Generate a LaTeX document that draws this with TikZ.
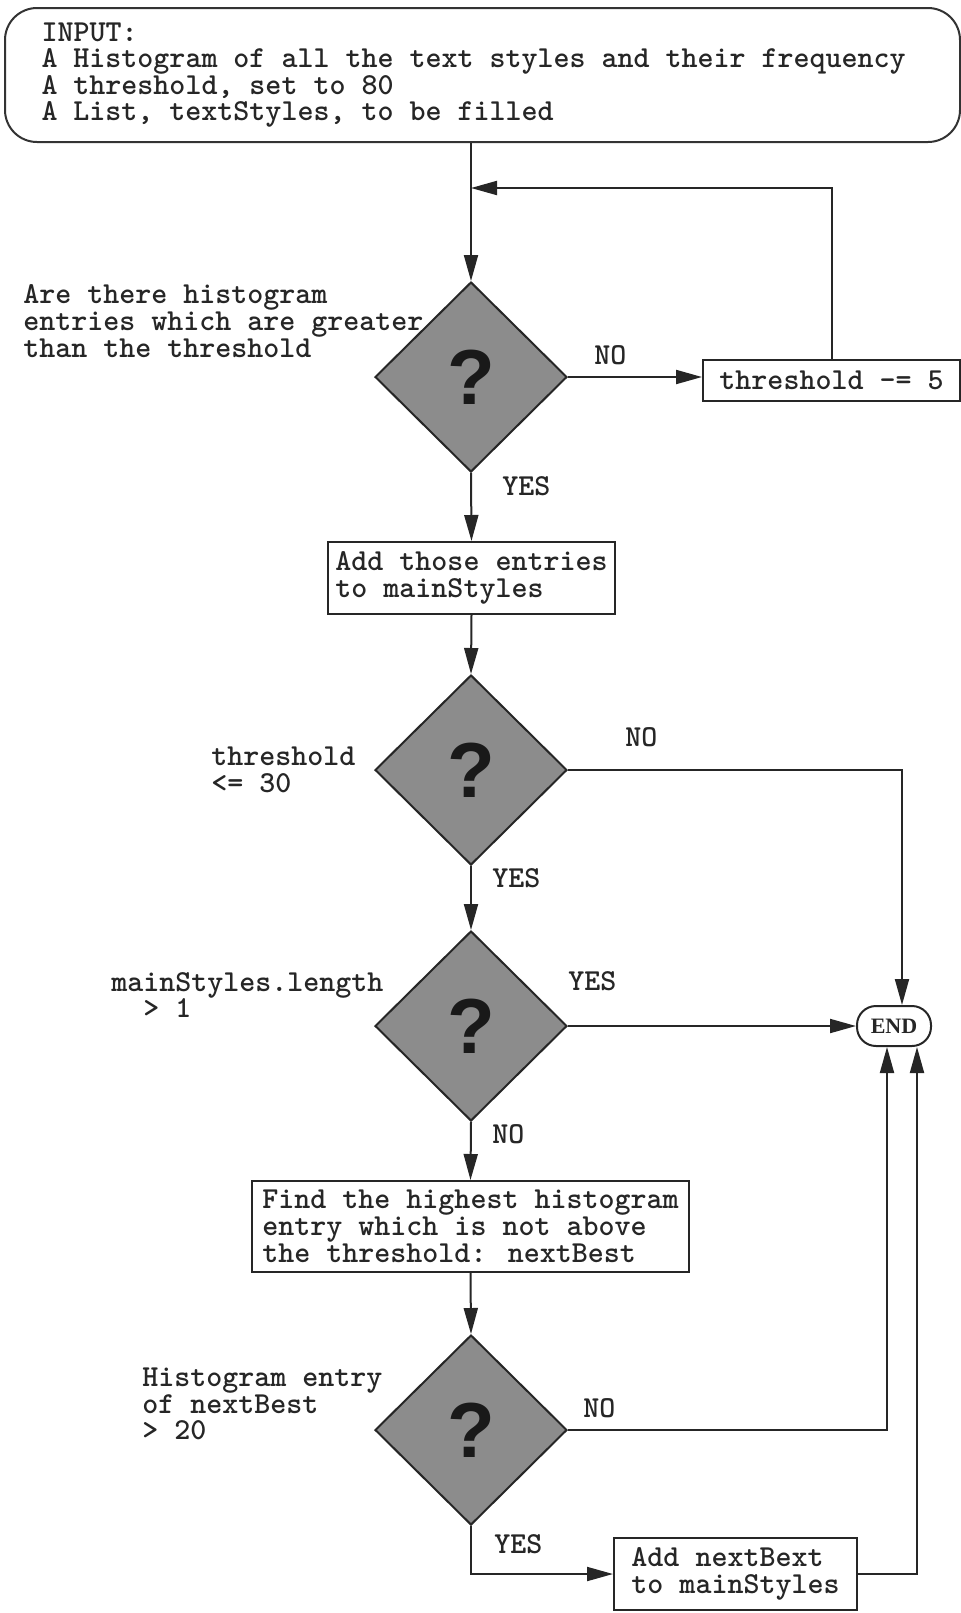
\documentclass[tikz,border=0pt]{standalone}
\usepackage{fontspec}
\newfontfamily\qmarkfont{Liberation Sans}
\newfontfamily\endfont{Liberation Serif}
\usetikzlibrary{arrows.meta,positioning,shapes.geometric}

\begin{document}
\begin{tikzpicture}[
    x=0.5pt, y=-0.5pt,
    every node/.style={font=\ttfamily\bfseries\fontsize{15.24pt}{13.4pt}\selectfont, text=black!85},
    inputbox/.style={
      draw=black!80, line width=1pt,
      rounded corners=16pt, align=left,
      minimum width=477.5pt, minimum height=67pt,
      text width=441pt, inner sep=0pt,
      font=\ttfamily\bfseries\fontsize{15.24pt}{13.2pt}\selectfont
    },
    decision/.style={
      diamond, draw=black!85, line width=1pt,
      fill=black!45, text=black!90,
      minimum width=96pt, minimum height=95pt, inner sep=0pt,
      font=\qmarkfont\bfseries\fontsize{39pt}{39pt}\selectfont
    },
    process/.style={
      draw=black!85, line width=1pt,
      align=left, inner sep=0pt
    },
    terminal/.style={
      draw=black!85, line width=1pt,
      rounded corners=9.5pt, inner sep=0pt,
      minimum width=37pt, minimum height=20pt,
      font=\endfont\bfseries\fontsize{11pt}{11pt}\selectfont
    },
    question/.style={anchor=west, align=left, inner sep=0pt},
    answer/.style={anchor=west, inner sep=0pt},
    arrow/.style={-{Triangle[length=13pt,width=7pt]}, line width=1pt, black!85}
  ]

    \useasboundingbox (0,0) rectangle (961,1613);

    \node[inputbox] (input) at (482.5,75)
      {\spaceskip=0.525em\relax INPUT:\\A Histogram of all the text styles and their frequency\\A threshold, set to 80\\A List, textStyles, to be filled};

    % decisions down the middle
    \node[decision] (d1) at (471,377) {?};
    \node[decision] (d2) at (471,770) {?};
    \node[decision] (d3) at (471,1026) {?};
    \node[decision] (d4) at (471,1430) {?};

    \node[question] (q1) at (23,321) {Are there histogram\\entries which are greater\\than the threshold};
    \node[question] (q2) at (211,770) {threshold\\<= 30};
    \node[question] (q3) at (111,995) {mainStyles.length\\\phantom{ma}> 1};
    \node[question] (q4) at (142,1404) {Histogram entry\\of nextBest\\> 20};

    % actions
    \node[process, minimum width=128.5pt, minimum height=20.5pt] (thr) at (831.5,380.5) {threshold -= 5};
    \node[process, minimum width=143.5pt, minimum height=36pt] (add1) at (471.5,578) {Add those entries\\to mainStyles};
    \node[process, minimum width=218.5pt, minimum height=45.5pt] (find) at (470.5,1226.5)
      {Find the highest histogram\\entry which is not above\\the threshold: nextBest};
    \node[process, minimum width=121.5pt, minimum height=36pt] (add2) at (735.5,1574) {Add nextBext\\to mainStyles};

    \node[terminal] (end) at (894,1026) {END};

    \node[answer] (no1) at (594,355) {NO};
    \node[answer] (yes1) at (502,486) {YES};
    \node[answer] (no2) at (625,737) {NO};
    \node[answer] (yes2) at (492,878) {YES};
    \node[answer] (yes3) at (568,981) {YES};
    \node[answer] (no3) at (492,1134) {NO};
    \node[answer] (no4) at (583,1408) {NO};
    \node[answer] (yes4) at (494,1544) {YES};

    \coordinate (loop) at (471,188);

    \draw[arrow] (input.south -| d1.north) -- (d1.north);
    \draw[arrow] (d1.east) -- (d1.east -| thr.west);
    \draw[arrow] (thr.north) |- (loop);
    \draw[arrow] (d1.south) -- (add1.north);
    \draw[arrow] (add1.south) -- (d2.north);
    \draw[arrow] (d2.east) -| ([xshift=4pt]end.north);
    \draw[arrow] (d2.south) -- (d3.north);
    \draw[arrow] (d3.east) -- (end.west);
    \draw[arrow] (d3.south) -- (find.north);
    \draw[arrow] (find.south) -- (d4.north);
    \draw[arrow] (d4.east) -| ([xshift=-3.5pt]end.south);
    \draw[arrow] (d4.south) |- (add2.west);
    \draw[arrow] (add2.east) -| ([xshift=11.5pt]end.south);

  \end{tikzpicture}
\end{document}
